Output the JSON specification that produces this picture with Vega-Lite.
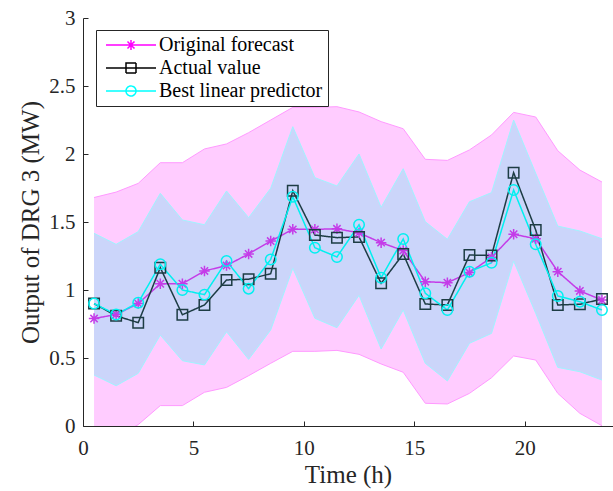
{
  "$schema": "https://vega.github.io/schema/vega-lite/v6.json",
  "width": 530,
  "height": 408,
  "autosize": {"type": "none"},
  "padding": {"left": 83, "top": 18, "right": 0, "bottom": 65},
  "background": "white",
  "config": {
    "font": "Liberation Serif",
    "view": {"stroke": null},
    "style": {"guide-label": {"font": "Liberation Serif"}, "guide-title": {"font": "Liberation Serif"}},
    "axis": {
      "domainColor": "#262626", "tickColor": "#262626", "labelColor": "#262626", "titleColor": "#262626",
      "labelFont": "Liberation Serif", "titleFont": "Liberation Serif",
      "labelFontSize": 21, "titleFontSize": 25, "titleFontWeight": "normal", "labelFlush": false,
      "grid": false, "tickSize": -5, "labelPadding": 13, "domainWidth": 1, "tickWidth": 1
    },
    "legend": {
      "orient": "none", "legendX": 13, "legendY": 12,
      "strokeColor": "#262626", "fillColor": "white", "padding": 5,
      "labelFont": "Liberation Serif", "labelFontSize": 20, "labelColor": "#000000", "labelLimit": 400,
      "symbolSize": 100, "labelOffset": 38, "rowPadding": 3, "symbolStrokeWidth": 1.5
    }
  },
  "data": {"values": [
    {"h": 0.5, "Original forecast": 0.79, "Actual value": 0.90, "Best linear predictor": 0.90, "olo": -0.10, "ohi": 1.68, "blo": 0.375, "bhi": 1.417},
    {"h": 1.5, "Original forecast": 0.82, "Actual value": 0.81, "Best linear predictor": 0.82, "olo": -0.08, "ohi": 1.72, "blo": 0.296, "bhi": 1.336},
    {"h": 2.5, "Original forecast": 0.90, "Actual value": 0.76, "Best linear predictor": 0.907, "olo": 0.01, "ohi": 1.784, "blo": 0.387, "bhi": 1.429},
    {"h": 3.5, "Original forecast": 1.046, "Actual value": 1.164, "Best linear predictor": 1.189, "olo": 0.15, "ohi": 1.936, "blo": 0.669, "bhi": 1.711},
    {"h": 4.5, "Original forecast": 1.046, "Actual value": 0.818, "Best linear predictor": 1.0, "olo": 0.15, "ohi": 1.936, "blo": 0.48, "bhi": 1.515},
    {"h": 5.5, "Original forecast": 1.14, "Actual value": 0.89, "Best linear predictor": 0.966, "olo": 0.248, "ohi": 2.037, "blo": 0.449, "bhi": 1.48},
    {"h": 6.5, "Original forecast": 1.18, "Actual value": 1.074, "Best linear predictor": 1.213, "olo": 0.284, "ohi": 2.074, "blo": 0.693, "bhi": 1.728},
    {"h": 7.5, "Original forecast": 1.265, "Actual value": 1.079, "Best linear predictor": 1.01, "olo": 0.37, "ohi": 2.157, "blo": 0.49, "bhi": 1.532},
    {"h": 8.5, "Original forecast": 1.36, "Actual value": 1.12, "Best linear predictor": 1.225, "olo": 0.461, "ohi": 2.25, "blo": 0.706, "bhi": 1.748},
    {"h": 9.5, "Original forecast": 1.446, "Actual value": 1.73, "Best linear predictor": 1.686, "olo": 0.549, "ohi": 2.343, "blo": 1.16, "bhi": 2.201},
    {"h": 10.5, "Original forecast": 1.446, "Actual value": 1.404, "Best linear predictor": 1.311, "olo": 0.549, "ohi": 2.343, "blo": 0.792, "bhi": 1.826},
    {"h": 11.5, "Original forecast": 1.45, "Actual value": 1.385, "Best linear predictor": 1.243, "olo": 0.556, "ohi": 2.348, "blo": 0.723, "bhi": 1.765},
    {"h": 12.5, "Original forecast": 1.42, "Actual value": 1.39, "Best linear predictor": 1.48, "olo": 0.527, "ohi": 2.309, "blo": 0.961, "bhi": 2.0},
    {"h": 13.5, "Original forecast": 1.348, "Actual value": 1.049, "Best linear predictor": 1.09, "olo": 0.456, "ohi": 2.238, "blo": 0.566, "bhi": 1.608},
    {"h": 14.5, "Original forecast": 1.29, "Actual value": 1.265, "Best linear predictor": 1.375, "olo": 0.395, "ohi": 2.186, "blo": 0.853, "bhi": 1.892},
    {"h": 15.5, "Original forecast": 1.061, "Actual value": 0.897, "Best linear predictor": 0.976, "olo": 0.167, "ohi": 1.961, "blo": 0.461, "bhi": 1.502},
    {"h": 16.5, "Original forecast": 1.054, "Actual value": 0.89, "Best linear predictor": 0.853, "olo": 0.162, "ohi": 1.953, "blo": 0.331, "bhi": 1.373},
    {"h": 17.5, "Original forecast": 1.128, "Actual value": 1.257, "Best linear predictor": 1.135, "olo": 0.24, "ohi": 2.03, "blo": 0.608, "bhi": 1.649},
    {"h": 18.5, "Original forecast": 1.24, "Actual value": 1.254, "Best linear predictor": 1.2, "olo": 0.355, "ohi": 2.14, "blo": 0.681, "bhi": 1.716},
    {"h": 19.5, "Original forecast": 1.41, "Actual value": 1.863, "Best linear predictor": 1.735, "olo": 0.515, "ohi": 2.306, "blo": 1.213, "bhi": 2.25},
    {"h": 20.5, "Original forecast": 1.377, "Actual value": 1.441, "Best linear predictor": 1.336, "olo": 0.485, "ohi": 2.272, "blo": 0.829, "bhi": 1.858},
    {"h": 21.5, "Original forecast": 1.135, "Actual value": 0.89, "Best linear predictor": 0.956, "olo": 0.24, "ohi": 2.024, "blo": 0.431, "bhi": 1.47},
    {"h": 22.5, "Original forecast": 0.993, "Actual value": 0.895, "Best linear predictor": 0.914, "olo": 0.093, "ohi": 1.882, "blo": 0.399, "bhi": 1.434},
    {"h": 23.5, "Original forecast": 0.926, "Actual value": 0.934, "Best linear predictor": 0.853, "olo": 0.002, "ohi": 1.794, "blo": 0.338, "bhi": 1.377}
  ]},
  "encoding": {
    "x": {"field": "h", "type": "quantitative", "scale": {"domain": [0, 24], "nice": false},
      "axis": {"title": "Time (h)", "values": [0, 5, 10, 15, 20], "labelPadding": 16, "titlePadding": 4}}
  },
  "layer": [
    {"mark": {"type": "area", "color": "#ffccff", "clip": true},
     "encoding": {"y": {"field": "olo", "type": "quantitative", "scale": {"domain": [0, 3], "nice": false},
        "axis": {"title": "Output of DRG 3 (MW)", "values": [0, 0.5, 1, 1.5, 2, 2.5, 3], "format": "~g", "titlePadding": 5}},
       "y2": {"field": "ohi"}}},
    {"mark": {"type": "line", "color": "#ff99ff", "strokeWidth": 1, "clip": true},
     "encoding": {"y": {"field": "ohi", "type": "quantitative"}}},
    {"mark": {"type": "line", "color": "#ff99ff", "strokeWidth": 1, "clip": true},
     "encoding": {"y": {"field": "olo", "type": "quantitative"}}},
    {"mark": {"type": "area", "color": "#cbd5fa"},
     "encoding": {"y": {"field": "blo", "type": "quantitative"}, "y2": {"field": "bhi"}}},
    {"mark": {"type": "line", "color": "#a0f4ff", "strokeWidth": 1},
     "encoding": {"y": {"field": "bhi", "type": "quantitative"}}},
    {"mark": {"type": "line", "color": "#a0f4ff", "strokeWidth": 1},
     "encoding": {"y": {"field": "blo", "type": "quantitative"}}},
    {"transform": [{"fold": ["Original forecast", "Actual value", "Best linear predictor"], "as": ["series", "value"]}],
     "mark": {"type": "line", "strokeWidth": 1.5},
     "encoding": {
       "y": {"field": "value", "type": "quantitative"},
       "color": {"field": "series", "type": "nominal",
         "scale": {"domain": ["Actual value", "Best linear predictor", "Original forecast"], "range": ["#1d3c44", "#00f0f0", "#c43ce8"]},
         "legend": null},
       "strokeDash": {"field": "series", "type": "nominal",
         "scale": {"domain": ["Original forecast", "Actual value", "Best linear predictor"], "range": [[1, 0], [1, 0], [1, 0]]},
         "legend": {"title": null,
           "encode": {"symbols": {"update": {
             "shape": {"signal": "datum.value === 'Original forecast' ? 'M-1,0L9,0M4,-1L4,1M3.3,-0.7L4.7,0.7M3.3,0.7L4.7,-0.7' : datum.value === 'Actual value' ? 'M-1,0L9,0M3,-1L5,-1L5,1L3,1Z' : 'M-1,0L9,0M5,0A1,1,0,1,1,3,0A1,1,0,1,1,5,0Z'"},
             "stroke": {"signal": "datum.value === 'Original forecast' ? '#ff00ff' : datum.value === 'Actual value' ? '#000000' : '#00ffff'"},
             "fill": {"value": "transparent"},
             "strokeWidth": {"value": 1.5},
             "opacity": {"value": 1}
           }}}}}
     }},
    {"transform": [{"fold": ["Original forecast", "Actual value", "Best linear predictor"], "as": ["series", "value"]}],
     "mark": {"type": "point", "filled": false, "size": 110, "strokeWidth": 1.5, "opacity": 1},
     "encoding": {
       "y": {"field": "value", "type": "quantitative"},
       "color": {"field": "series", "type": "nominal", "legend": null},
       "shape": {"field": "series", "type": "nominal",
         "scale": {"domain": ["Best linear predictor", "Original forecast", "Actual value"], "range": ["circle", "M-1,0L1,0M0,-1L0,1M-0.7,-0.7L0.7,0.7M-0.7,0.7L0.7,-0.7", "square"]},
         "legend": null}
     }}
  ]
}
